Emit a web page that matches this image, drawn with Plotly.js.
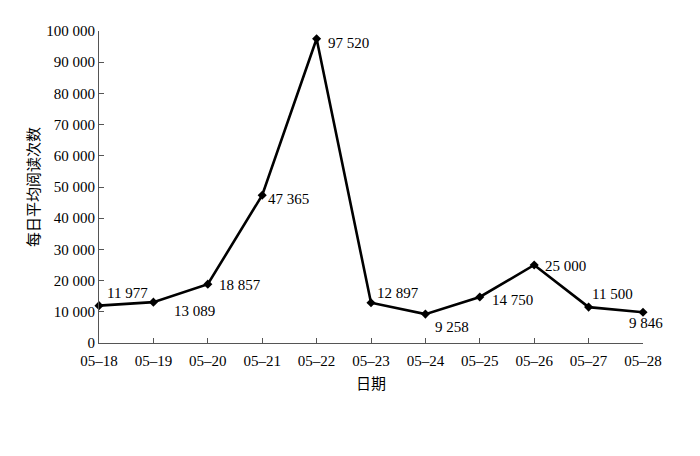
<!DOCTYPE html>
<html>
<head>
<meta charset="utf-8">
<script src="https://cdn.plot.ly/plotly-3.0.1.min.js"></script>
<style>html,body{margin:0;padding:0;background:#fff;}#chart{width:700px;height:456px;}</style>
</head>
<body>
<div id="chart"></div>
<script>
const dates = ["05–18","05–19","05–20","05–21","05–22","05–23","05–24","05–25","05–26","05–27","05–28"];
const reads = [11977, 13089, 18857, 47365, 97520, 12897, 9258, 14750, 25000, 11500, 9846];
const yTicks = [0,10000,20000,30000,40000,50000,60000,70000,80000,90000,100000];

// label placement (style): pixel shifts relative to each marker
const labelXShift = [6, 19, 9, 4, 9, 4, 8, 10, 9, 1, 3];
const labelYShift = [13, -9, -1, -4, -4, 10, -13, -3, -1, 13, -11];
const labelAnchor = ["left","left","left","left","left","left","left","left","left","left","center"];

const serif = "Liberation Serif, Times New Roman, serif";
const cjk = "Noto Sans CJK SC, sans-serif";

function fmt(v) { return String(v).replace(/\B(?=(\d{3})+(?!\d))/g, " "); }

const annotations = dates.map((d, i) => ({
  x: d, y: reads[i], xref: "x", yref: "y",
  text: fmt(reads[i]), showarrow: false,
  xanchor: labelAnchor[i], yanchor: "middle",
  xshift: labelXShift[i], yshift: labelYShift[i],
  font: {family: serif, size: 15, color: "#000"}
}));

Plotly.newPlot("chart", [{
  x: dates, y: reads, type: "scatter", mode: "lines+markers",
  line: {color: "#000", width: 2.6},
  marker: {symbol: "diamond", size: 7, color: "#000"},
  cliponaxis: false,
  hoverinfo: "none"
}], {
  width: 700, height: 456,
  margin: {l: 99, r: 57, t: 31, b: 113},
  separators: ". ",
  paper_bgcolor: "#fff", plot_bgcolor: "#fff",
  showlegend: false,
  font: {family: serif, size: 15, color: "#000"},
  annotations: annotations,
  xaxis: {
    type: "category", range: [0, 10],
    showline: true, linecolor: "#555", linewidth: 1,
    ticks: "inside", ticklen: 5, tickcolor: "#555",
    showgrid: false, zeroline: false,
    ticklabelstandoff: 4,
    tickfont: {family: serif, size: 15},
    title: {text: "日期", font: {family: cjk, size: 15}, standoff: 10}
  },
  yaxis: {
    range: [0, 100000], tickvals: yTicks, tickformat: ",d",
    showline: true, linecolor: "#555", linewidth: 1,
    ticks: "inside", ticklen: 5, tickcolor: "#555",
    showgrid: false, zeroline: false,
    tickfont: {family: serif, size: 15},
    title: {text: "每日平均阅读次数", font: {family: cjk, size: 15}, standoff: 3}
  }
}, {staticPlot: true});
</script>
</body>
</html>
